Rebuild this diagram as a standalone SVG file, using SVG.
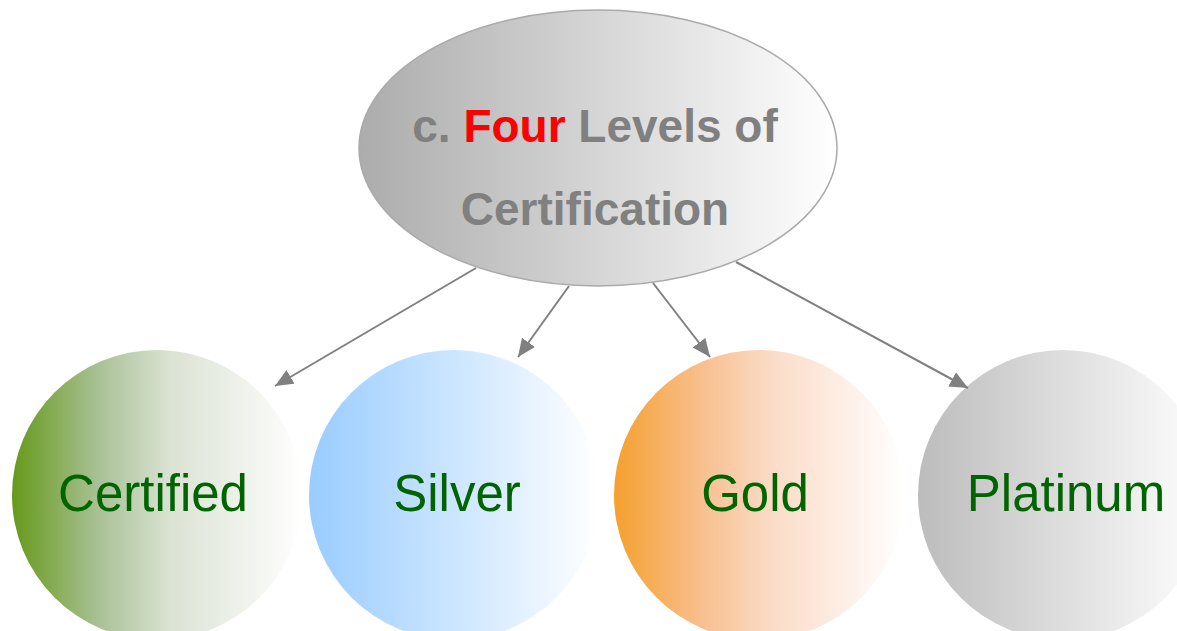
<svg xmlns="http://www.w3.org/2000/svg" width="1177" height="631" viewBox="0 0 1177 631">
<style>
.lbl{font-family:"Liberation Sans",Arial,sans-serif;font-size:51px;fill:#006400;text-anchor:middle}
.ttl{font-family:"Liberation Sans",Arial,sans-serif;font-size:46px;font-weight:bold;fill:#808080;text-anchor:middle}
.conn{stroke:#808080;stroke-width:2;fill:none;marker-end:url(#arr)}
</style>
<defs>
<linearGradient id="gTop" x1="0" y1="0" x2="1" y2="0"><stop offset="0" stop-color="#acacac"/><stop offset="1" stop-color="#ffffff"/></linearGradient>
<linearGradient id="gCert" x1="0" y1="0" x2="1" y2="0"><stop offset="0" stop-color="#66991a"/><stop offset="0.3" stop-color="#a9c196"/><stop offset="0.55" stop-color="#dbe3d4"/><stop offset="1" stop-color="#ffffff"/></linearGradient>
<linearGradient id="gSil" x1="0" y1="0" x2="1" y2="0"><stop offset="0" stop-color="#99ccff"/><stop offset="1" stop-color="#ffffff"/></linearGradient>
<linearGradient id="gGold" x1="0" y1="0" x2="1" y2="0"><stop offset="0" stop-color="#f5a02e"/><stop offset="0.3" stop-color="#f8bf8e"/><stop offset="0.55" stop-color="#fbdcc8"/><stop offset="1" stop-color="#ffffff"/></linearGradient>
<linearGradient id="gPlat" x1="0" y1="0" x2="1" y2="0"><stop offset="0" stop-color="#bcbcbc"/><stop offset="1" stop-color="#ffffff"/></linearGradient>
<marker id="arr" markerUnits="userSpaceOnUse" markerWidth="18" markerHeight="16" refX="18" refY="8" orient="auto"><path d="M0,0 L18,8 L0,16 z" fill="#808080"/></marker>
</defs>
<g id="root">
<ellipse cx="598" cy="148" rx="239" ry="138" fill="url(#gTop)" stroke="#aaaaaa" stroke-width="1.5"/>
<text class="ttl" x="595" y="142">c. <tspan fill="#ff0000">Four</tspan> Levels of</text>
<text class="ttl" x="595" y="225">Certification</text>
</g>
<g id="certified">
<circle cx="157" cy="495" r="145" fill="url(#gCert)"/>
<text class="lbl" x="153" y="511">Certified</text>
</g>
<g id="silver">
<circle cx="454" cy="495" r="145" fill="url(#gSil)"/>
<text class="lbl" x="457" y="511">Silver</text>
</g>
<g id="gold">
<circle cx="759" cy="495" r="145" fill="url(#gGold)"/>
<text class="lbl" x="755" y="511">Gold</text>
</g>
<g id="platinum">
<circle cx="1063" cy="495" r="145" fill="url(#gPlat)"/>
<text class="lbl" x="1066" y="511">Platinum</text>
</g>
<g id="connectors">
<line class="conn" x1="476" y1="268" x2="275" y2="386"/>
<line class="conn" x1="569" y1="286" x2="518" y2="357"/>
<line class="conn" x1="653" y1="283" x2="710" y2="357"/>
<line class="conn" x1="736" y1="262" x2="968" y2="388"/>
</g>
</svg>
